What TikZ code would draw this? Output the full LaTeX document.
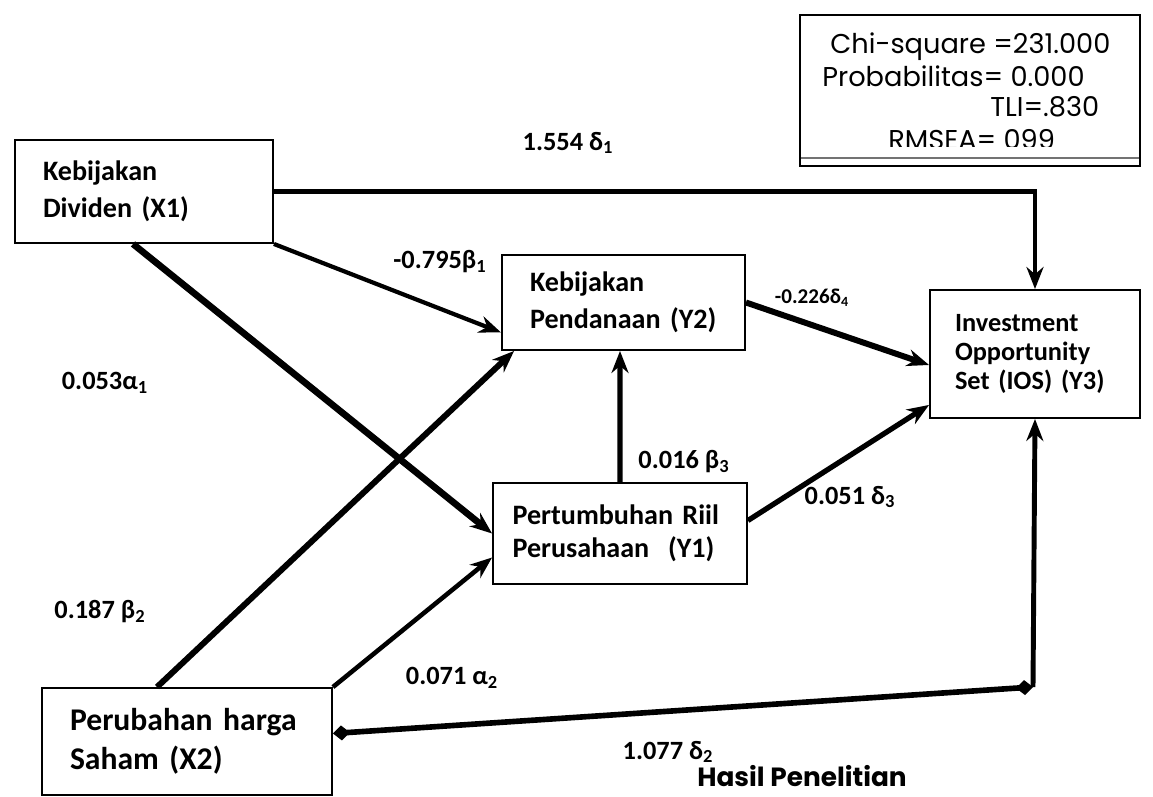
\documentclass[tikz,border=0pt]{standalone}
\usepackage{fontspec}
\setmainfont{Carlito}
\newfontfamily\statfont{Poppins}
\usetikzlibrary{arrows.meta}

\begin{document}
\begin{tikzpicture}[x=0.02cm, y=-0.02cm, >={Stealth[length=0.44cm, width=0.34cm]}]
  \tikzset{
    var/.style={draw, line width=1.1pt, align=left, inner sep=0pt,
      font=\bfseries\fontsize{16}{21}\selectfont},
    eff/.style={->, line width=#1},
    eff/.default=3.2pt,
    corr/.style={{Diamond[length=0.34cm, width=0.3cm]}-, line width=#1},
    coef/.style={font=\bfseries\fontsize{15}{18}\selectfont},
    stat/.style={anchor=west, inner sep=0pt, font=\statfont\fontsize{15.5}{18}\selectfont}
  }
  \useasboundingbox (0,0) rectangle (1153,797);

  % Variables
  \node[var, minimum width=5.16cm, minimum height=2.06cm, text width=4.04cm] (x1) at (144,191.5) {Kebijakan\\Dividen (X1)};
  \node[var, minimum width=5.8cm, minimum height=2.14cm, text width=4.68cm,
    font=\bfseries\fontsize{18}{22}\selectfont] (x2) at (187,741.5) {Perubahan harga\\Saham (X2)};
  \node[var, minimum width=4.86cm, minimum height=1.9cm, text width=3.74cm] (y2) at (623.5,302.5) {Kebijakan\\Pendanaan (Y2)};
  \node[var, minimum width=5.08cm, minimum height=2.02cm, text width=4.3cm,
    font=\bfseries\fontsize{16}{19}\selectfont] (y1) at (620,533.5) {Pertumbuhan Riil\\Perusahaan~ (Y1)};
  \node[var, minimum width=4.2cm, minimum height=2.56cm, text width=3.2cm,
    font=\bfseries\fontsize{15}{16.5}\selectfont] (y3) at (1035,354) {Investment\\Opportunity\\Set (IOS) (Y3)};

  % Goodness of fit
  \node[stat] (chi) at (830,47) {Chi-square =231.000};
  \node[stat] (prob) at (822,76) {Probabilitas= 0.000};
  \node[stat] (tli) at (990,107) {TLI=.830};
  \node[stat] (rmsea) at (888,140) {RMSEA= 099};
  \fill[white] (801,147) rectangle (1139,157);
  \draw[line width=1.1pt] (800,166) -- (800,15) -- (1140,15) -- (1140,166) -- cycle;
  \draw[line width=1.6pt, black!55] (801,158) -- (1139,158);

  % Paths
  \draw[corr=2.4pt, ->] (x1.east) -| (y3.north);
  \coordinate (k2) at (1033,687);
  \draw[corr=3.2pt, {Diamond[length=0.34cm, width=0.3cm]}-{Diamond[length=0.34cm, width=0.3cm]}] ([yshift=0.16cm]x2.east) -- (k2);
  \draw[eff=2.8pt] (k2) -- (y3.south);
  \draw[eff=2.4pt] (x1.south east) -- ([yshift=-0.6cm]y2.west);
  \draw[eff=3.8pt] ([xshift=-0.22cm]x1.south) -- (y1.west);
  \draw[eff=3.4pt] ([xshift=-0.6cm]x2.north) -- ([xshift=0.26cm]y2.south west);
  \draw[eff=2.6pt] (x2.north east) -- ([yshift=-0.48cm]y1.west);
  \draw[eff=3pt] (y1.north) -- ([xshift=-0.07cm]y2.south);
  \draw[eff=3pt] ([yshift=0.26cm]y1.east) -- ([yshift=0.28cm]y3.south west);
  \draw[eff=3.4pt] (y2.east) -- ([yshift=-0.22cm]y3.west);

  % Coefficients
  \node[coef] (d1) at (568,143) {1.554 δ\textsubscript{1}};
  \node[coef] (b1) at (440,262) {-0.795β\textsubscript{1}};
  \node[coef] (a1) at (105,383) {0.053α\textsubscript{1}};
  \node[coef] (d4) at (812,298) {\fontsize{12}{14}\selectfont -0.226δ\textsubscript{4}};
  \node[coef] (b3) at (684,462) {0.016 β\textsubscript{3}};
  \node[coef] (d3) at (850,497) {0.051 δ\textsubscript{3}};
  \node[coef] (b2) at (100,612) {0.187 β\textsubscript{2}};
  \node[coef] (a2) at (452,678) {0.071 α\textsubscript{2}};
  \node[coef] (d2) at (668,752) {1.077 δ\textsubscript{2}};

  % Caption
  \node[anchor=base, inner sep=0pt, font=\statfont\bfseries\fontsize{15}{18}\selectfont] (cap) at (802,786) {Hasil Penelitian};
\end{tikzpicture}
\end{document}
